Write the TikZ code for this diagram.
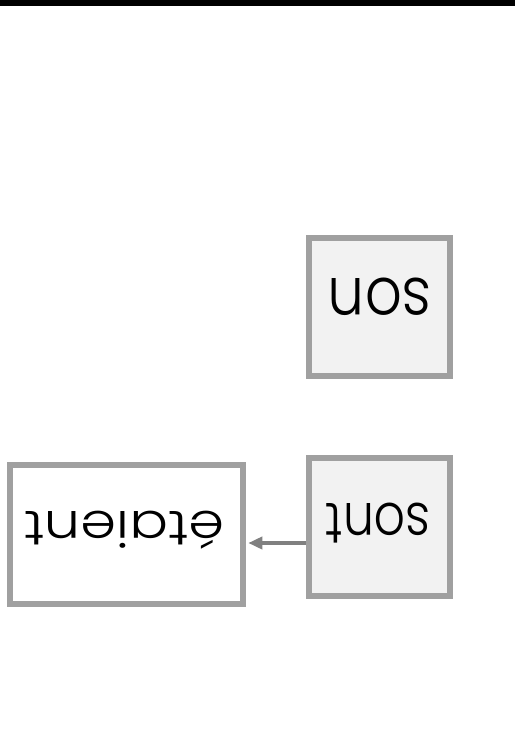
\documentclass[tikz,border=0pt]{standalone}
\usepackage{fontspec}
\setmainfont{Poppins Light}
\usetikzlibrary{arrows.meta}
\definecolor{bordergray}{HTML}{A0A0A0}
\definecolor{fillgray}{HTML}{F2F2F2}
\definecolor{arrowgray}{HTML}{808080}
\tikzset{
  box/.style={draw=bordergray, line width=6.5pt, inner sep=0pt},
  graybox/.style={box, fill=fillgray},
  whitebox/.style={box, fill=white},
  txt/.style={inner sep=0pt, text=black},
  conn/.style={draw=arrowgray, line width=4pt, -{Triangle[length=14pt,width=12pt]}, shorten >=2pt}
}
\newcommand{\flipword}[3]{\rotatebox{180}{\scalebox{#1}[#2]{\smash{#3}\vphantom{x}}}}
\begin{document}
\begin{tikzpicture}[x=1pt,y=1pt]
\useasboundingbox (0,0) rectangle (517,-737);
\fill[black] (0,0) rectangle (515,-6);
\node[graybox, minimum width=141pt, minimum height=138pt] (son) at (379.5,-307) {};
\node[graybox, minimum width=141pt, minimum height=138pt] (sont) at (379.5,-527) {};
\node[whitebox, minimum width=233pt, minimum height=139pt] (etaient) at (126.5,-534.5) {};
\node[txt, font=\fontsize{58}{58}\selectfont] (sonlbl) at (380,-296.5) {\flipword{1}{1.15}{son}};
\node[txt, font=\fontsize{50}{50}\selectfont] (sontlbl) at (378,-519) {\flipword{0.98}{1.16}{sont}};
\node[txt, font=\fontsize{49}{49}\selectfont] (etaientlbl) at (124,-525) {\flipword{1.17}{1}{étaient}};
\coordinate (lvl) at (0,-543);
\draw[conn] (sont.west |- lvl) -- (etaient.east |- lvl);
\end{tikzpicture}
\end{document}
